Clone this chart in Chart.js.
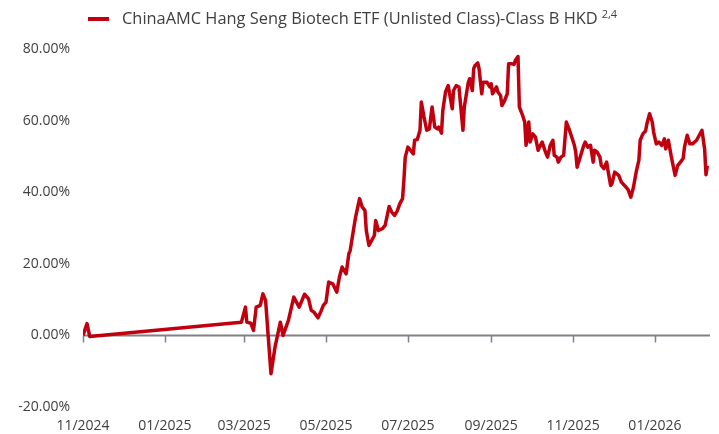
<!DOCTYPE html>
<html>
<head>
<meta charset="utf-8">
<script src="https://cdn.jsdelivr.net/npm/chart.js@4.4.1/dist/chart.umd.min.js"></script>
<style>
  html, body { margin: 0; padding: 0; background: #fff; }
  #wrap { width: 719px; height: 434px; position: relative; }
</style>
</head>
<body>
<div id="wrap"><canvas id="perfchart"></canvas></div>
<script>
// series name + footnote marks
const seriesname = 'ChinaAMC Hang Seng Biotech ETF (Unlisted Class)-Class B HKD'
const seriesnote = '2,4'

// cumulative return (%) by date
const dates = [
  '2024-11-01','2024-11-04','2024-11-06','2025-02-27','2025-03-02','2025-03-03','2025-03-06','2025-03-08',
  '2025-03-10','2025-03-13','2025-03-15','2025-03-17','2025-03-19','2025-03-21','2025-03-24','2025-03-28',
  '2025-03-30','2025-04-03','2025-04-07','2025-04-11','2025-04-15','2025-04-18','2025-04-20','2025-04-22',
  '2025-04-25','2025-04-27','2025-04-29','2025-05-01','2025-05-03','2025-05-06','2025-05-09','2025-05-11',
  '2025-05-13','2025-05-16','2025-05-18','2025-05-19','2025-05-21','2025-05-23','2025-05-26','2025-05-28',
  '2025-05-30','2025-05-31','2025-06-02','2025-06-04','2025-06-06','2025-06-07','2025-06-09','2025-06-12',
  '2025-06-14','2025-06-17','2025-06-19','2025-06-21','2025-06-23','2025-06-25','2025-06-27','2025-06-28',
  '2025-06-29','2025-07-01','2025-07-03','2025-07-05','2025-07-06','2025-07-08','2025-07-10','2025-07-11',
  '2025-07-13','2025-07-15','2025-07-17','2025-07-19','2025-07-21','2025-07-23','2025-07-24','2025-07-26',
  '2025-07-27','2025-07-29','2025-07-31','2025-08-03','2025-08-04','2025-08-06','2025-08-08','2025-08-11',
  '2025-08-12','2025-08-15','2025-08-16','2025-08-18','2025-08-19','2025-08-20','2025-08-22','2025-08-23',
  '2025-08-25','2025-08-26','2025-08-29','2025-08-31','2025-09-01','2025-09-02','2025-09-05','2025-09-06',
  '2025-09-08','2025-09-09','2025-09-11','2025-09-13','2025-09-14','2025-09-16','2025-09-18','2025-09-19',
  '2025-09-21','2025-09-22','2025-09-24','2025-09-26','2025-09-27','2025-09-29','2025-09-30','2025-10-02',
  '2025-10-04','2025-10-06','2025-10-07','2025-10-09','2025-10-11','2025-10-13','2025-10-15','2025-10-17',
  '2025-10-18','2025-10-20','2025-10-21','2025-10-23','2025-10-25','2025-10-27','2025-10-29','2025-10-31',
  '2025-11-02','2025-11-03','2025-11-04','2025-11-07','2025-11-09','2025-11-10','2025-11-12','2025-11-14',
  '2025-11-16','2025-11-17','2025-11-19','2025-11-21','2025-11-22','2025-11-24','2025-11-26','2025-11-27',
  '2025-11-29','2025-11-30','2025-12-02','2025-12-05','2025-12-07','2025-12-10','2025-12-12','2025-12-14',
  '2025-12-16','2025-12-18','2025-12-20','2025-12-21','2025-12-23','2025-12-25','2025-12-26','2025-12-28',
  '2025-12-30','2025-12-31','2026-01-02','2026-01-04','2026-01-06','2026-01-08','2026-01-09','2026-01-11',
  '2026-01-13','2026-01-15','2026-01-16','2026-01-18','2026-01-20','2026-01-22','2026-01-23','2026-01-25',
  '2026-01-27','2026-01-29','2026-02-01','2026-02-03','2026-02-05','2026-02-07','2026-02-08','2026-02-09'
]
const returns = [
  0, 3.3, -0.3, 3.7, 7.9, 3.7, 3.4, 1.4,
  7.9, 8.4, 11.6, 9.8, -0.5, -10.7, -3.3, 3.7,
  0, 4.2, 10.7, 7.9, 11.5, 10.2, 7.0, 6.5,
  4.9, 6.5, 8.4, 9.3, 14.9, 14.4, 12.1, 16.3,
  19.1, 17.2, 22.8, 23.7, 28.4, 33.0, 38.2, 35.8,
  34.9, 29.3, 25.1, 26.5, 27.9, 32.1, 29.3, 29.8,
  30.7, 36.0, 34.4, 33.5, 34.7, 36.8, 38.2, 43.3,
  49.8, 52.6, 51.7, 50.7, 54.5, 54.7, 57.3, 65.2,
  61.0, 57.3, 57.7, 63.8, 58.2, 57.7, 58.2, 56.5,
  62.8, 68.0, 69.8, 63.3, 68.4, 69.8, 69.4, 57.3,
  63.8, 70.7, 71.7, 68.4, 74.5, 75.4, 76.1, 74.5,
  67.5, 70.7, 70.7, 69.4, 70.3, 67.5, 69.4, 68.0,
  67.0, 64.2, 65.6, 67.5, 75.9, 75.9, 75.7, 76.8,
  77.9, 63.8, 61.9, 59.6, 53.1, 59.6, 54.0, 56.3,
  55.4, 51.7, 52.6, 54.0, 51.7, 49.8, 53.1, 54.5,
  50.3, 49.8, 48.4, 49.8, 50.3, 59.6, 57.7, 55.4,
  53.1, 51.2, 47.0, 50.7, 53.1, 54.0, 52.6, 53.1,
  48.4, 51.7, 51.2, 49.8, 47.5, 46.6, 48.4, 46.1,
  41.9, 42.4, 45.6, 44.7, 42.8, 41.6, 40.7, 38.6,
  41.4, 45.6, 48.9, 54.5, 56.3, 57.1, 59.1, 61.9,
  59.6, 56.8, 53.5, 54.0, 53.1, 54.9, 52.1, 54.5,
  50.3, 46.6, 44.7, 47.5, 48.4, 49.4, 52.6, 55.9,
  53.5, 53.5, 54.5, 55.9, 57.3, 52.1, 44.9, 47.4
]

// x axis ticks
const tickdates = ['2024-11-01','2025-01-01','2025-03-01','2025-05-01','2025-07-01','2025-09-01','2025-11-01','2026-01-01']
const ticklabels = ['11/2024','01/2025','03/2025','05/2025','07/2025','09/2025','11/2025','01/2026']
const xend = '2026-02-11'

// y axis ticks
const ymin = -20, ymax = 80, ystep = 20

const linecolor = '#c0000f'
const axiscolor = '#80808a'
const textcolor = '#404040'

// days since first date
const daynum = (s) => {
  const p = s.split('-').map(Number)
  return (Date.UTC(p[0], p[1]-1, p[2]) - Date.UTC(2024, 10, 1)) / 864e5
}

const points = dates.map((d, i) => ({ x: daynum(d), y: returns[i] }))
const tickvalues = tickdates.map(daynum)

// zero line + tick marks hanging off it
const zeroaxis = {
  id: 'zeroaxis',
  beforeDatasetsDraw(chart) {
    const { ctx, chartArea, scales } = chart
    const y0 = Math.round(scales.y.getPixelForValue(0)) + 0.5
    ctx.save()
    ctx.strokeStyle = axiscolor
    ctx.lineWidth = 2
    ctx.beginPath()
    ctx.moveTo(chartArea.left, y0)
    ctx.lineTo(chartArea.right, y0)
    ctx.stroke()
    ctx.lineWidth = 1.5
    tickvalues.forEach(v => {
      const x = Math.round(scales.x.getPixelForValue(v)) + 0.5
      ctx.beginPath()
      ctx.moveTo(x, y0)
      ctx.lineTo(x, y0 + 7)
      ctx.stroke()
    })
    ctx.restore()
  }
}

// legend with superscript footnote
const notelegend = {
  id: 'notelegend',
  afterDraw(chart) {
    const { ctx } = chart
    const ly = 19
    ctx.save()
    ctx.strokeStyle = linecolor
    ctx.lineWidth = 4
    ctx.beginPath()
    ctx.moveTo(88, ly)
    ctx.lineTo(109, ly)
    ctx.stroke()
    ctx.fillStyle = textcolor
    ctx.font = '16.4px "Open Sans"'
    ctx.textBaseline = 'middle'
    ctx.fillText(seriesname, 122, ly)
    const w = ctx.measureText(seriesname).width
    ctx.font = '11px "Open Sans"'
    ctx.fillText(seriesnote, 122 + w + 4, ly - 4)
    ctx.restore()
  }
}

const perfchart = document.getElementById('perfchart').getContext('2d')

new Chart(perfchart, {
  type: 'line',
  data: {
    datasets: [{
      label: seriesname,
      data: points,
      borderColor: linecolor,
      backgroundColor: linecolor,
      borderWidth: 3.5,
      pointRadius: 0,
      tension: 0,
      borderJoinStyle: 'round',
      fill: false
    }]
  },
  options: {
    responsive: true,
    maintainAspectRatio: false,
    animation: false,
    layout: { padding: { top: 49, right: 9, bottom: 0, left: 0 } },
    scales: {
      x: {
        type: 'linear',
        min: 0,
        max: daynum(xend),
        afterBuildTicks: (s) => { s.ticks = tickvalues.map(v => ({ value: v })) },
        afterFit: (s) => { s.height = 27 },
        grid: { display: false, drawTicks: false },
        border: { display: false },
        ticks: {
          padding: 11,
          color: textcolor,
          font: { family: 'Open Sans', size: 14 },
          maxRotation: 0,
          autoSkip: false,
          callback: (v) => ticklabels[tickvalues.indexOf(v)] || ''
        }
      },
      y: {
        min: ymin,
        max: ymax,
        afterFit: (s) => { s.width = 83 },
        grid: { display: false, drawTicks: false },
        border: { display: false },
        ticks: {
          stepSize: ystep,
          padding: 13,
          color: textcolor,
          font: { family: 'Open Sans', size: 14 },
          callback: (v) => v.toFixed(2) + '%'
        }
      }
    },
    plugins: {
      legend: { display: false },
      tooltip: { enabled: false }
    }
  },
  plugins: [zeroaxis, notelegend]
})
</script>
</body>
</html>
